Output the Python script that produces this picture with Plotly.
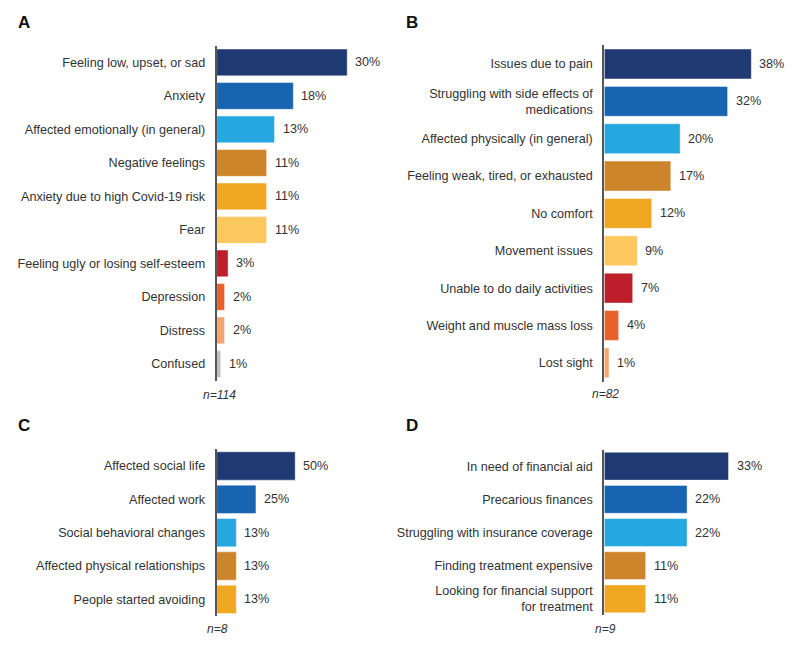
import plotly.graph_objects as go

# ---------------- data ----------------
a_cats = ["Feeling low, upset, or sad", "Anxiety", "Affected emotionally (in general)",
          "Negative feelings", "Anxiety due to high Covid-19 risk", "Fear",
          "Feeling ugly or losing self-esteem", "Depression", "Distress", "Confused"]
a_vals = [29.8, 17.5, 13.2, 11.4, 11.4, 11.4, 2.6, 1.8, 1.8, 0.9]
a_labels = ["30%", "18%", "13%", "11%", "11%", "11%", "3%", "2%", "2%", "1%"]

b_cats = ["Issues due to pain", "Struggling with side effects of<br>medications",
          "Affected physically (in general)", "Feeling weak, tired, or exhausted",
          "No comfort", "Movement issues", "Unable to do daily activities",
          "Weight and muscle mass loss", "Lost sight"]
b_vals = [37.8, 31.7, 19.5, 17.1, 12.2, 8.5, 7.3, 3.7, 1.2]
b_labels = ["38%", "32%", "20%", "17%", "12%", "9%", "7%", "4%", "1%"]

c_cats = ["Affected social life", "Affected work", "Social behavioral changes",
          "Affected physical relationships", "People started avoiding"]
c_vals = [50, 25, 12.5, 12.5, 12.5]
c_labels = ["50%", "25%", "13%", "13%", "13%"]

d_cats = ["In need of financial aid", "Precarious finances", "Struggling with insurance coverage",
          "Finding treatment expensive", "Looking for financial support<br>for treatment"]
d_vals = [33.3, 22.2, 22.2, 11.1, 11.1]
d_labels = ["33%", "22%", "22%", "11%", "11%"]

panel_letters = ["A", "B", "C", "D"]
sample_sizes = ["n=114", "n=82", "n=8", "n=9"]

palette = ["#1F3A72", "#1765B0", "#25A8DF", "#CC852A", "#F0A822",
           "#FDC85E", "#BD1E2B", "#E6622A", "#F4A46C", "#BFBFBF"]

# ---------------- layout geometry ----------------
W, H = 800, 649
def px_x(p): return p / W
def px_y(p): return 1 - p / H

panels = [
    dict(cats=a_cats, vals=a_vals, labels=a_labels, xd=(216.7, 390), yd=(45.7, 380.7), xmax=(390 - 216.7) / 4.38, bw=0.8,
         letter_xy=(16, 23), n_xy=(219.5, 395)),
    dict(cats=b_cats, vals=b_vals, labels=b_labels, xd=(604.3, 795), yd=(45.3, 381.5), xmax=(795 - 604.3) / 3.89, bw=0.8,
         letter_xy=(404, 23), n_xy=(605, 394)),
    dict(cats=c_cats, vals=c_vals, labels=c_labels, xd=(216.7, 390), yd=(449.3, 616), xmax=(390 - 216.7) / 1.57, bw=0.85,
         letter_xy=(16, 425), n_xy=(217, 629)),
    dict(cats=d_cats, vals=d_vals, labels=d_labels, xd=(604.3, 795), yd=(449.6, 615.4), xmax=(795 - 604.3) / 3.73, bw=0.84,
         letter_xy=(404, 425), n_xy=(605, 629)),
]

FONT = "Liberation Sans, Arial, sans-serif"
TXT = "#333333"

fig = go.Figure()
annotations = []
layout_axes = {}
for i, p in enumerate(panels):
    k = "" if i == 0 else str(i + 1)
    n = len(p["cats"])
    fig.add_trace(go.Bar(
        x=p["vals"], y=p["cats"], orientation="h",
        marker=dict(color=palette[:n], line=dict(color="rgba(255,255,255,0.55)", width=0.8)),
        width=p["bw"], xaxis="x" + k, yaxis="y" + k, showlegend=False, hoverinfo="skip",
    ))
    layout_axes["xaxis" + k] = dict(
        domain=[px_x(p["xd"][0]), px_x(p["xd"][1])], range=[0, p["xmax"]],
        anchor="y" + k, visible=False, fixedrange=True)
    layout_axes["yaxis" + k] = dict(
        domain=[px_y(p["yd"][1]), px_y(p["yd"][0])], range=[n - 0.5, -0.5],
        anchor="x" + k, showline=True, linecolor="#555555", linewidth=2,
        showgrid=False, zeroline=False, ticks="", ticklabelstandoff=7,
        tickfont=dict(family=FONT, size=12.6, color=TXT), fixedrange=True)
    for v, lab, c in zip(p["vals"], p["labels"], p["cats"]):
        annotations.append(dict(
            x=v, y=c, xref="x" + k, yref="y" + k, text=lab, showarrow=False,
            xanchor="left", yanchor="middle", xshift=6,
            font=dict(family=FONT, size=12.6, color=TXT)))
    annotations.append(dict(
        x=px_x(p["letter_xy"][0]), y=px_y(p["letter_xy"][1]), xref="paper", yref="paper",
        text="<b>" + panel_letters[i] + "</b>", showarrow=False, xanchor="left", yanchor="middle",
        font=dict(family=FONT, size=17, color="#111111")))
    annotations.append(dict(
        x=px_x(p["n_xy"][0]), y=px_y(p["n_xy"][1]), xref="paper", yref="paper",
        text="<i>" + sample_sizes[i] + "</i>", showarrow=False, xanchor="center", yanchor="middle",
        font=dict(family=FONT, size=12, color=TXT)))

fig.update_layout(
    width=W, height=H, margin=dict(l=0, r=0, t=0, b=0),
    paper_bgcolor="white", plot_bgcolor="white",
    annotations=annotations, bargap=0.2, **layout_axes,
)

fig.write_html("out.html", config={"displayModeBar": False},
               post_script="document.body.style.margin='0';document.body.style.overflow='hidden';")
